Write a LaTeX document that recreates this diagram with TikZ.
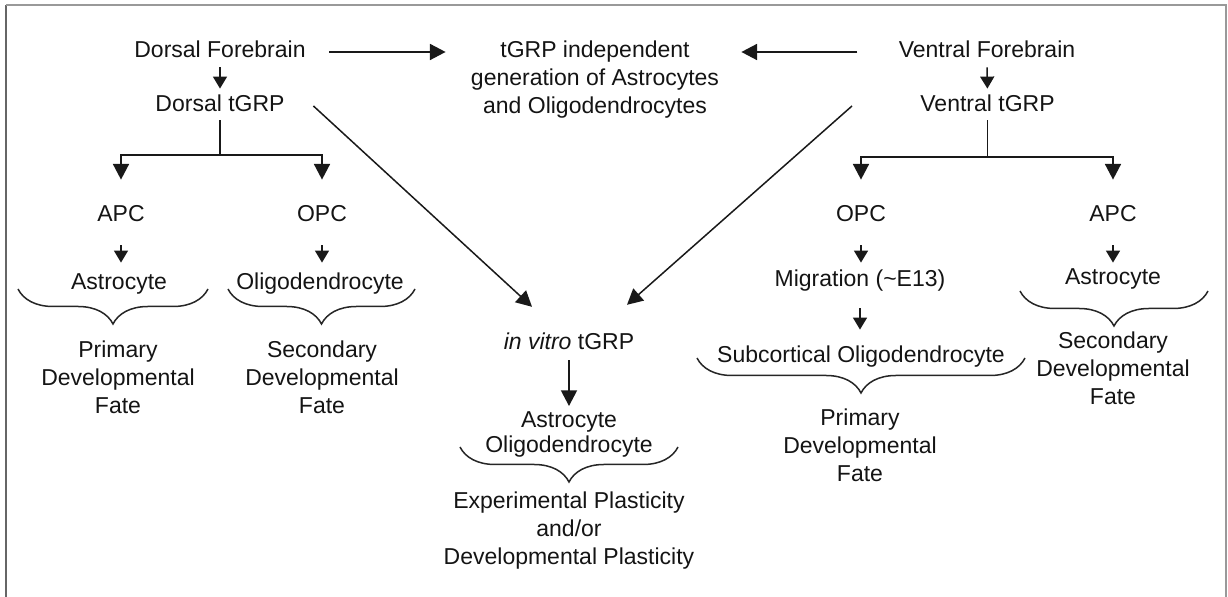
\documentclass[tikz,border=0pt]{standalone}
\usepackage{fontspec}
\setmainfont{Liberation Sans}
\usetikzlibrary{arrows.meta,decorations.pathreplacing}
\begin{document}
\begin{tikzpicture}[x=0.5pt,y=-0.5pt,
  lbl/.style={inner sep=0pt, text height=8.4pt, text depth=2.4pt, anchor=base,
    font=\fontsize{11.5pt}{14pt}\selectfont, text=black!92},
  txt/.style={inner sep=0pt, anchor=north, align=center,
    font=\fontsize{11.5pt}{14pt}\selectfont, text=black!92},
  arr/.style={-{Triangle[length=7.8pt,width=8pt]}, line width=0.75pt, draw=black!90},
  sarr/.style={-{Triangle[length=6pt,width=7pt]}, line width=0.75pt, draw=black!90},
  ln/.style={line width=0.75pt, draw=black!90},
  brc/.style={decorate, decoration={brace, amplitude=17.5pt}, line width=0.75pt, draw=black!85}]
\useasboundingbox (0,0) rectangle (1228,597);
% frame
\draw[line width=1.1pt, black!60] (6,597) -- (6,5);
\draw[line width=1.1pt, black!40] (6,5) -- (1226,5) -- (1226,597);

% dorsal side
\node[lbl] (df) at (220,58) {Dorsal Forebrain};
\node[lbl] (dtgrp) at (220,112) {Dorsal tGRP};
\node[lbl] (apcL) at (121,222) {APC};
\node[lbl] (opcL) at (322,222) {OPC};
\node[lbl] (astL) at (119,290) {Astrocyte};
\node[lbl] (oliL) at (320,290) {Oligodendrocyte};
\node[txt] (pdfL) at (118,340) {Primary\\Developmental\\Fate};
\node[txt] (sdfL) at (322,340) {Secondary\\Developmental\\Fate};

% middle
\node[txt] (tgi) at (595,40) {tGRP independent\\generation of Astrocytes\\and Oligodendrocytes};
\node[lbl] (invitro) at (569,350) {\textit{in vitro} tGRP};
\node[txt, font=\fontsize{11.5pt}{12.5pt}\selectfont] (ao) at (569,411.5) {Astrocyte\\Oligodendrocyte};
\node[txt] (exp) at (569,491) {Experimental Plasticity\\and/or\\Developmental Plasticity};

% ventral side
\node[lbl] (vf) at (987,58) {Ventral Forebrain};
\node[lbl] (vtgrp) at (987.5,112) {Ventral tGRP};
\node[lbl] (opcR) at (861,222) {OPC};
\node[lbl] (apcR) at (1113,222) {APC};
\node[lbl] (mig) at (860,287) {Migration (\textasciitilde E13)};
\node[lbl] (astR) at (1113,285) {Astrocyte};
\node[lbl] (sub) at (861,363) {Subcortical Oligodendrocyte};
\node[txt] (pdfR) at (860,408) {Primary\\Developmental\\Fate};
\node[txt] (sdfR) at (1113,331) {Secondary\\Developmental\\Fate};

% coordinates
\coordinate (dbar) at (220,155);
\coordinate (vbar) at (987.5,157);
\coordinate (bA1) at (208,289); \coordinate (bA2) at (18,289);
\coordinate (bO1) at (415,289); \coordinate (bO2) at (228,289);
\coordinate (bS1) at (1025,358); \coordinate (bS2) at (697,358);
\coordinate (bR1) at (1208,291); \coordinate (bR2) at (1020,291);
\coordinate (bM1) at (678,447); \coordinate (bM2) at (460,447);

% dorsal connectors
\draw[sarr, shorten <=2.1pt, shorten >=3.1pt] (df.south) -- (dtgrp.north);
\draw[ln, shorten <=1.6pt] (dtgrp.south) -- (dbar);
\draw[arr, shorten >=12.6pt] (dbar) -| (apcL.north);
\draw[arr, shorten >=12.6pt] (dbar) -| (opcL.north);
\draw[sarr, shorten <=9pt, shorten >=5.1pt] (apcL.south) -- (apcL.south |- astL.north);
\draw[sarr, shorten <=9pt, shorten >=5.1pt] (opcL.south) -- (opcL.south |- oliL.north);

% ventral connectors
\draw[sarr, shorten <=2.1pt, shorten >=3.1pt] (vf.south) -- (vtgrp.north);
\draw[ln, shorten <=1.6pt] (vtgrp.south) -- (vbar);
\draw[arr, shorten >=12.6pt] (vbar) -| (opcR.north);
\draw[arr, shorten >=12.6pt] (vbar) -| (apcR.north);
\draw[sarr, shorten <=9pt, shorten >=3.6pt] (opcR.south) -- (opcR.south |- mig.north);
\draw[sarr, shorten <=9pt, shorten >=2.6pt] (apcR.south) -- (apcR.south |- astR.north);
\draw[sarr, shorten <=8.1pt, shorten >=8.1pt] (mig.south) -- (mig.south |- sub.north);

% to tGRP independent
\draw[arr, shorten <=11.5pt, shorten >=12.5pt] (df.east) -- (df.east -| tgi.west);
\draw[arr, shorten <=20.5pt, shorten >=11pt] (vf.west) -- (vf.west -| tgi.east);

% to in vitro
\draw[arr] ([xshift=14.25pt]dtgrp.east) -- ([xshift=-18.5pt,yshift=13pt]invitro.north);
\draw[arr] ([xshift=-34pt]vtgrp.west) -- ([xshift=29pt,yshift=14pt]invitro.north);
\draw[arr, shorten <=2.6pt, shorten >=2.75pt] (invitro.south) -- (ao.north);

% braces
\draw[brc] (bA1) -- (bA2);
\draw[brc] (bO1) -- (bO2);
\draw[brc] (bS1) -- (bS2);
\draw[brc] (bR1) -- (bR2);
\draw[brc] (bM1) -- (bM2);
\end{tikzpicture}
\end{document}
